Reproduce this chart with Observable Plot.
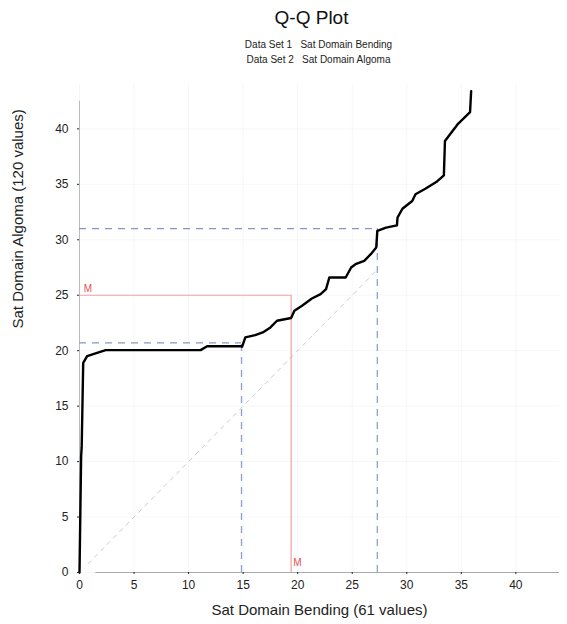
<!DOCTYPE html>
<html>
<head>
<meta charset="utf-8">
<script src="https://cdn.jsdelivr.net/npm/d3@7"></script>
<script src="https://cdn.jsdelivr.net/npm/@observablehq/plot@0.6"></script>
<style>
  body { margin: 0; background: #fff; font-family: "Liberation Sans", Arial, sans-serif; }
  #head { position: relative; width: 567px; height: 72px; }
  #title { position: absolute; left: 0; width: 567px; top: 7px; text-align: center; padding-left: 56px; box-sizing: border-box; font-size: 19px; color: #111; }
  .sub { position: absolute; left: 0; width: 567px; text-align: center; padding-left: 70px; box-sizing: border-box; font-size: 10px; color: #222; }
</style>
</head>
<body>
<div id="head">
  <div id="title">Q-Q Plot</div>
  <div class="sub" style="top:39px">Data Set 1&nbsp;&nbsp;&nbsp;Sat Domain Bending</div>
  <div class="sub" style="top:54px">Data Set 2&nbsp;&nbsp;&nbsp;Sat Domain Algoma</div>
</div>
<div id="chart"></div>
<script>
// Q-Q curve (quantiles of Data Set 1 vs Data Set 2)
const qqX = [0, 0.15, 0.2, 0.34, 0.7, 1.47, 2.4, 11.1, 11.7, 14.8, 14.9, 15.2, 16.1, 16.8, 17.5, 18.1, 19.4, 19.7, 20.4, 21.3, 22.1, 22.6, 22.9, 24.4, 24.9, 25.3, 26.1, 26.7, 27.2, 27.3, 28.1, 29.1, 29.15, 29.6, 30.5, 30.8, 31.7, 32.7, 33.4, 33.5, 34.65, 35.8, 35.9];
const qqY = [0, 10.5, 11.3, 18.9, 19.5, 19.75, 20.05, 20.05, 20.4, 20.4, 20.35, 21.2, 21.4, 21.65, 22.1, 22.7, 22.95, 23.6, 24.05, 24.7, 25.1, 25.55, 26.6, 26.6, 27.5, 27.8, 28.1, 28.7, 29.3, 30.8, 31.1, 31.3, 32.0, 32.8, 33.5, 34.1, 34.6, 35.2, 35.8, 38.9, 40.4, 41.5, 43.4];
// Median (M) of each data set
const medianX = 19.4;
const medianY = 25;
// Quartiles (Q1, Q3) of each data set
const quartX = [14.85, 27.3];
const quartY = [20.7, 31.0];
// Reference line y = x end
const refEnd = 27.3;
// Tick values
const ticks = [0, 5, 10, 15, 20, 25, 30, 35, 40];
const xLabel = "Sat Domain Bending (61 values)";
const yLabel = "Sat Domain Algoma (120 values)";

const curve = qqX.map((x, i) => ({x, y: qqY[i]}));
const quart = quartX.map((x, i) => ({x, y: quartY[i]}));

const chart = Plot.plot({
  width: 567,
  height: 552,
  marginLeft: 79,
  marginRight: 8,
  marginTop: 12,
  marginBottom: 52,
  style: {fontFamily: "'Liberation Sans', Arial, sans-serif", fontSize: "12px", color: "#222", background: "#fff"},
  x: {domain: [0, 44], ticks: ticks},
  y: {domain: [0, 44], ticks: ticks},
  marks: [
    Plot.gridX(ticks, {stroke: "#000", strokeOpacity: 0.035}),
    Plot.gridY(ticks, {stroke: "#000", strokeOpacity: 0.035}),
    // axis lines
    Plot.ruleY([0], {x1: 1.5, x2: 44, stroke: "#aaa", strokeWidth: 1.2}),
    Plot.ruleX([0], {y1: 0, y2: 42.5, stroke: "#bbb", strokeWidth: 1}),
    // reference diagonal
    Plot.line([{x: 0.8, y: 0.8}, {x: refEnd, y: refEnd}], {x: "x", y: "y", stroke: "#ccc", strokeDasharray: "4,5", strokeWidth: 1}),
    // quartile guides
    Plot.ruleY(quart, {y: "y", x1: 0, x2: "x", stroke: "#8a96c4", strokeWidth: 1.3, strokeDasharray: "7,6"}),
    Plot.ruleX(quart, {x: "x", y1: 0, y2: "y", stroke: "#8f9fd0", strokeWidth: 1.3, strokeDasharray: "7,6"}),
    // median guides
    Plot.ruleY([medianY], {x1: 0, x2: medianX, stroke: "#f0a0a0", strokeWidth: 1.2}),
    Plot.ruleX([medianX], {y1: 0, y2: medianY, stroke: "#f0a0a0", strokeWidth: 1.2}),
    Plot.text([{x: 0.4, y: medianY}], {x: "x", y: "y", text: () => "M", fill: "#e05050", fontSize: 10, textAnchor: "start", dy: -6}),
    Plot.text([{x: medianX, y: 0}], {x: "x", y: "y", text: () => "M", fill: "#e05050", fontSize: 10, textAnchor: "start", dx: 2, dy: -10}),
    // Q-Q curve
    Plot.line(curve, {x: "x", y: "y", stroke: "#000", strokeWidth: 2.4, curve: "linear"}),
    Plot.axisX({ticks: ticks, tickSize: 2, tickPadding: 6, label: null, fontSize: 12}),
    Plot.axisY({ticks: ticks, tickSize: 2, tickPadding: 9, label: null, fontSize: 12}),
    Plot.text([xLabel], {frameAnchor: "bottom", dy: 42, text: d => d, fontSize: 15, fill: "#222"}),
    Plot.text([yLabel], {frameAnchor: "left", dx: -61, rotate: -90, text: d => d, fontSize: 15, fill: "#222"})
  ]
});
document.getElementById("chart").appendChild(chart);
</script>
</body>
</html>
